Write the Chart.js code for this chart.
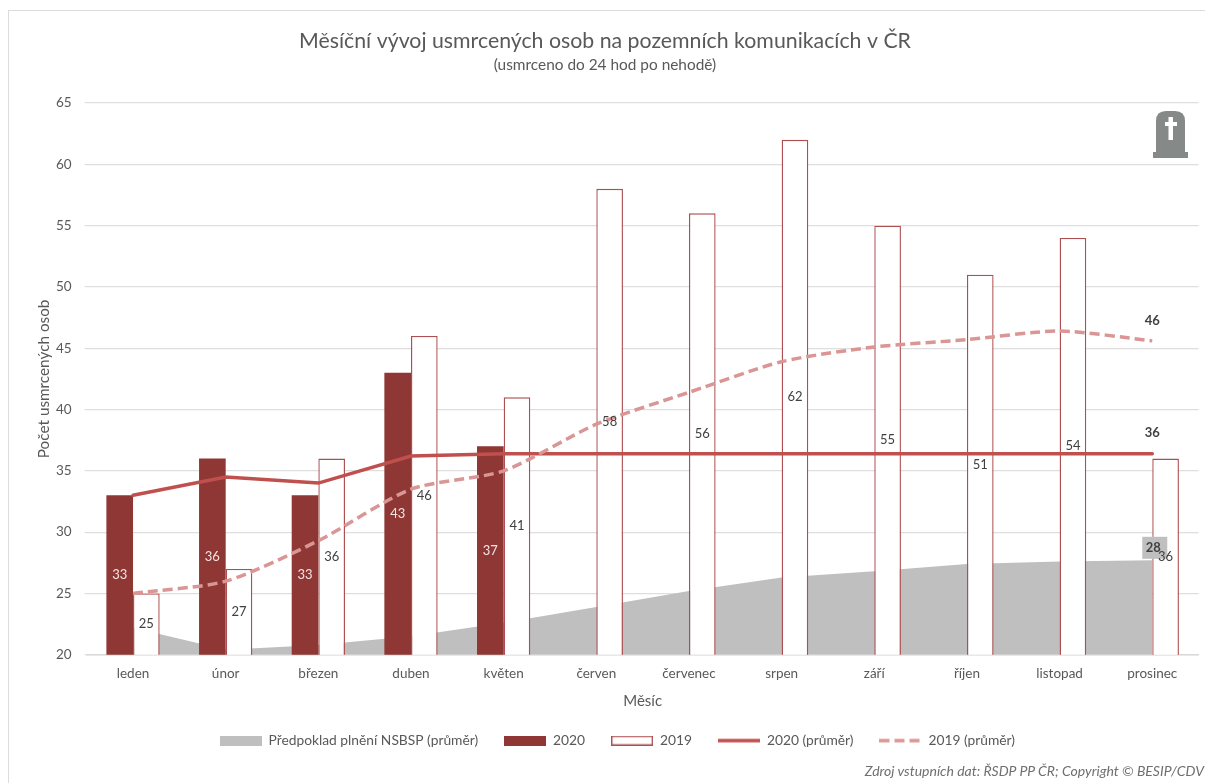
<!DOCTYPE html>
<html lang="cs">
<head>
<meta charset="utf-8">
<title>Měsíční vývoj usmrcených osob</title>
<script src="https://cdn.jsdelivr.net/npm/chart.js@4/dist/chart.umd.min.js"></script>
<style>
html,body{margin:0;padding:0;background:#fff;width:1205px;height:783px;overflow:hidden}
#wrap{position:relative;width:1205px;height:783px}
#frame{position:absolute;left:8px;top:10px;right:0;bottom:0;border-left:1.5px solid #dcdcdc;border-top:1.5px solid #dcdcdc}
canvas{position:absolute;left:0;top:0}
#grave{position:absolute;left:1152px;top:111px}
#source{position:absolute;right:1px;top:762px;font:italic 14px Lato,sans-serif;color:#6f6f6f;white-space:nowrap}
</style>
</head>
<body>
<div id="wrap">
<div id="frame"></div>
<canvas id="c" width="1205" height="783"></canvas>
<svg id="grave" width="38" height="47" viewBox="0 0 38 47">
  <path d="M4 41V10Q4 0 14 0H23Q33 0 33 10V41Z" fill="#858a88"/>
  <rect x="1" y="41" width="35" height="6" fill="#858a88"/>
  <path d="M16.5 6h4.5v5h4v4h-4v14h-4.500V15h-3.500v-4h3.500z" fill="#fff"/>
</svg>
<div id="source">Zdroj vstupních dat: ŘSDP PP ČR; Copyright © BESIP/CDV</div>
</div>
<script>
const months = ['leden','únor','březen','duben','květen','červen','červenec','srpen','září','říjen','listopad','prosinec'];
const plan = [22.2,20.4,20.8,21.5,22.6,23.9,25.2,26.3,26.8,27.4,27.6,27.7];
const y2020 = [33,36,33,43,37,null,null,null,null,null,null,null];
const y2019 = [25,27,36,46,41,58,56,62,55,51,54,36];
const avg2020 = [33,34.5,34,36.2,36.4,36.4,36.4,36.4,36.4,36.4,36.4,36.4];
const avg2019 = [25,26,29.3,33.5,35,38.8,41.4,43.9,45.1,45.7,46.4,45.6];
const yTicks = [20,25,30,35,40,45,50,55,60,65];

const TEXT = '#595959', FONT = 'Lato, sans-serif';

function swatch(draw){
  const s = document.createElement('canvas');
  s.width = 42; s.height = 10;
  draw(s.getContext('2d'));
  return s;
}
const swPlan = swatch(g=>{g.fillStyle='#bfbfbf';g.fillRect(0,0,42,10);});
const sw2020 = swatch(g=>{g.fillStyle='#8e3735';g.fillRect(0,0,42,10);});
const sw2019 = swatch(g=>{g.fillStyle='#fff';g.fillRect(0,0,42,10);g.strokeStyle='#ad4f50';g.lineWidth=1.4;g.strokeRect(.7,.7,40.6,8.6);});
const swA20 = swatch(g=>{g.strokeStyle='#c0504d';g.lineWidth=3.5;g.beginPath();g.moveTo(0,5);g.lineTo(42,5);g.stroke();});
const swA19 = swatch(g=>{g.strokeStyle='#d99694';g.lineWidth=3.5;g.setLineDash([10,5]);g.beginPath();g.moveTo(0,5);g.lineTo(42,5);g.stroke();});

const shiftTitles = {
  id:'shiftTitles',
  afterLayout(chart){
    chart.boxes.filter(b=>b.position==='top').forEach(b=>{b.left-=12.3;b.right-=12.3;});
  }
};

const barLabels = {
  id:'barLabels',
  afterDatasetsDraw(chart){
    const {ctx} = chart;
    const xs = chart.scales.x, ys = chart.scales.y;
    const last = months.length-1;
    const px = xs.getPixelForValue(last);
    const mid = el => (el.y+ys.bottom)/2;
    ctx.save();
    ctx.font = '13px '+FONT;
    ctx.textAlign='center'; ctx.textBaseline='middle';
    // grey box of the plan label, then the end-of-series labels
    const py = ys.getPixelForValue(plan[last]);
    ctx.fillStyle='#bfbfbf';
    ctx.fillRect(px-10, py-23.5, 25, 22);
    // column values, centred in each column
    [[1,'#f2e4e3'],[2,'#404040']].forEach(([idx,col])=>{
      chart.getDatasetMeta(idx).data.forEach((el,i)=>{
        const v = chart.data.datasets[idx].data[i];
        if(v==null) return;
        ctx.fillStyle = col;
        ctx.fillText(String(v), el.x, mid(el));
      });
    });
    ctx.font = 'bold 13px '+FONT;
    ctx.fillStyle='#404040';
    ctx.fillText(String(Math.round(plan[last])), px+1, py-12.5);
    ctx.fillText(String(Math.round(avg2020[last])), px, ys.getPixelForValue(avg2020[last])-21);
    ctx.fillText(String(Math.round(avg2019[last])), px, ys.getPixelForValue(avg2019[last])-20);
    ctx.restore();
  }
};

new Chart(document.getElementById('c'),{
  data:{
    labels:months,
    datasets:[
      {type:'line',label:'Předpoklad plnění NSBSP (průměr)',data:plan,order:5,fill:'start',
       backgroundColor:'#bfbfbf',borderWidth:0,pointRadius:0,tension:0,legendImg:swPlan},
      {type:'bar',label:'2020',data:y2020,order:3,backgroundColor:'#8e3735',borderWidth:0,
       categoryPercentage:0.575,barPercentage:1,legendImg:sw2020},
      {type:'bar',label:'2019',data:y2019,order:4,backgroundColor:'#fff',borderColor:'#ad4f50',borderWidth:1.4,
       categoryPercentage:0.575,barPercentage:1,legendImg:sw2019},
      {type:'line',label:'2020 (průměr)',data:avg2020,order:2,borderColor:'#c0504d',borderWidth:3.5,
       pointRadius:0,tension:0,fill:false,borderCapStyle:'round',legendImg:swA20},
      {type:'line',label:'2019 (průměr)',data:avg2019,order:1,borderColor:'#d99694',borderWidth:3.5,borderDash:[10,5],
       pointRadius:0,tension:0.25,fill:false,legendImg:swA19}
    ]
  },
  options:{
    responsive:false,animation:false,
    layout:{padding:{left:36,right:6.400,top:28,bottom:25.500}},
    scales:{
      x:{
        grid:{display:false,drawTicks:false},
        border:{color:'#d9d9d9',width:1.5},
        ticks:{color:TEXT,font:{family:FONT,size:13.5},padding:11,maxRotation:0,autoSkip:false},
        title:{display:true,text:'Měsíc',color:TEXT,font:{family:FONT,size:15},padding:{top:8,bottom:-2}},
        afterFit(s){s.height=53;}
      },
      y:{
        min:20,max:65,
        afterBuildTicks(s){s.ticks=yTicks.map(v=>({value:v}));},
        grid:{color:'#dedede',lineWidth:1.2,drawTicks:true,tickLength:2},
        border:{display:false},
        ticks:{color:TEXT,font:{family:FONT,size:13.5},padding:13},
        title:{display:true,text:'Počet usmrcených osob',color:TEXT,font:{family:FONT,size:15.300},padding:{top:-1,bottom:8}},
        afterFit(s){s.width=50.7;}
      }
    },
    plugins:{
      title:{display:true,text:'Měsíční vývoj usmrcených osob na pozemních komunikacích v ČR',color:TEXT,
        font:{family:FONT,size:21.3,weight:'normal'},padding:{top:0,bottom:2}},
      subtitle:{display:true,text:'(usmrceno do 24 hod po nehodě)',color:TEXT,
        font:{family:FONT,size:15.400,weight:'normal'},padding:{top:0,bottom:29}},
      legend:{position:'bottom',
        labels:{color:TEXT,font:{family:FONT,size:13.800},usePointStyle:true,pointStyleWidth:42,boxHeight:10,padding:26,
          generateLabels(chart){
            return chart.data.datasets.map((d,i)=>({text:d.label,pointStyle:d.legendImg,datasetIndex:i,
              fontColor:TEXT,hidden:false,lineWidth:0}));
          }
        }
      },
      tooltip:{enabled:false}
    }
  },
  plugins:[barLabels,shiftTitles]
});
</script>
</body>
</html>
